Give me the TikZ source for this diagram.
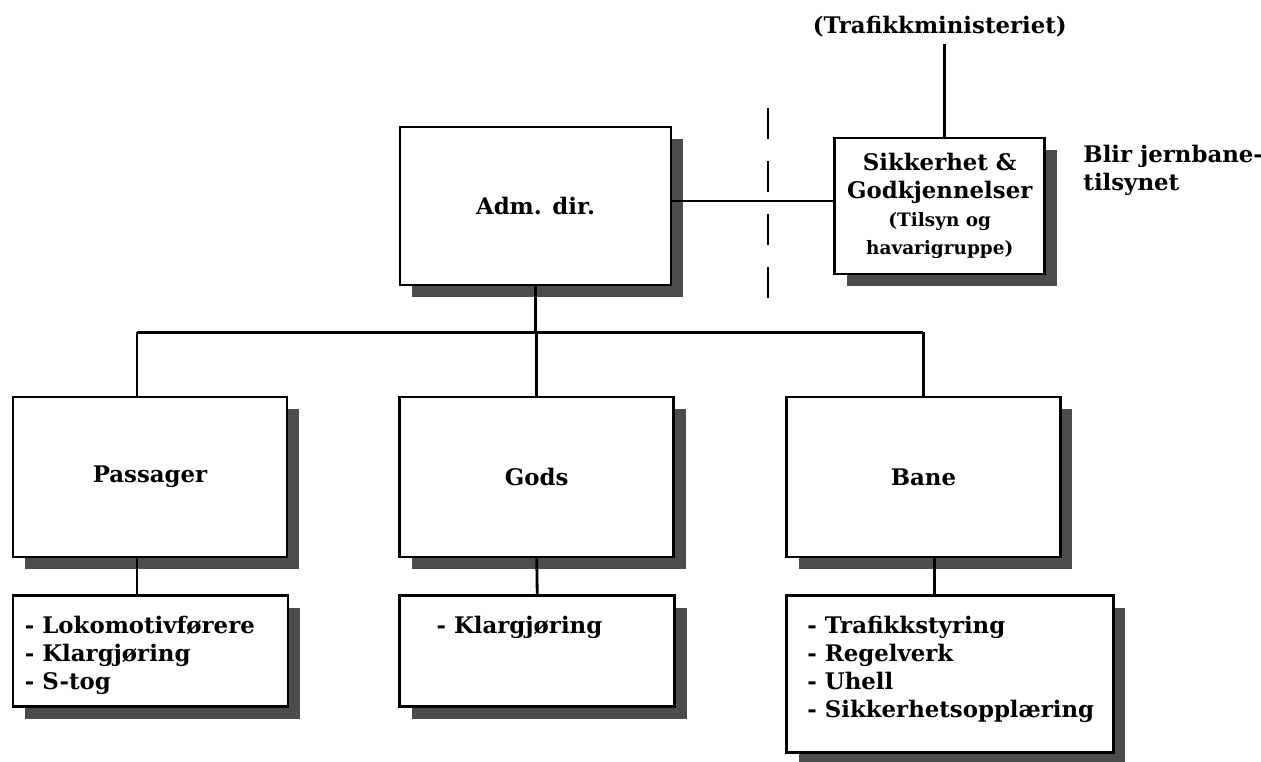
\documentclass[tikz,border=0pt]{standalone}
\usepackage{fontspec}
\setmainfont{DejaVu Serif}
\usetikzlibrary{positioning,shadows}
\newcommand\sikfont{\fontsize{10.5}{13}\selectfont}
\tikzset{
  orgbox/.style={draw=black, line width=1.6pt, fill=white, inner sep=0pt,
    drop shadow={shadow xshift=0.24cm, shadow yshift=-0.24cm, opacity=1, fill=black!70}},
  unitbox/.style={orgbox, minimum width=5.48cm, minimum height=3.2cm},
  listbox/.style={orgbox, minimum width=5.5cm, minimum height=2.22cm},
  items/.style={align=left, inner sep=0pt},
  link/.style={line width=1.6pt}
}

\begin{document}
\begin{tikzpicture}[x=0.02cm, y=-0.02cm, font=\bfseries\fontsize{13}{16}\selectfont]
\useasboundingbox (0,0) rectangle (1261,761);

%% top level
\node[orgbox, minimum width=5.42cm, minimum height=3.16cm] (Adm) at(535.5, 206) {Adm. dir.};
\node[orgbox, minimum width=4.2cm, minimum height=2.72cm, align=center, right=3.22cm of Adm] (Sik)
  {Sikkerhet \&\\Godkjennelser\\{\sikfont (Tilsyn og}\\{\sikfont havarigruppe)}};
\node[above=1.86cm of Sik] (Trafikk) {(Trafikkministeriet)};
\node[items, below right=0.16cm and 0.74cm of Sik.north east] (Blir) {Blir jernbane-\\tilsynet};

\coordinate (DashTop) at(768, 108);
\coordinate (DashBot) at(768, 300);

\draw[link] ([yshift=0.1cm]Adm.east) -- ([yshift=0.1cm]Adm.east -| Sik.west);
\draw[link] ([xshift=0.1cm]Trafikk.south) -- ([xshift=0.1cm]Sik.north);
\draw[link, dash pattern=on 0.62cm off 0.44cm] (DashTop) -- (DashBot);

%% divisions
\node[unitbox] (Pas) at(150, 477) {Passager};
\node[unitbox, right=2.2cm of Pas] (Gods) {Gods};
\node[unitbox, right=2.2cm of Gods] (Bane) {Bane};

\coordinate[above=1.27cm of Pas.north, xshift=-0.26cm] (BusL);
\coordinate (BusR) at(Bane.north |- BusL);

\draw[link] (Adm.south) -- (Adm.south |- BusL);
\draw[link] (BusL) -- (BusR);
\draw[link] (BusL) -- (BusL |- Pas.north);
\draw[link] (Gods.north |- BusL) -- (Gods.north);
\draw[link] (BusR) -- (Bane.north);

%% lists
\node[listbox, below=0.72cm of Pas.south west, anchor=north west] (PasList) {};
\node[listbox, below=0.72cm of Gods.south west, anchor=north west] (GodsList) {};
\node[orgbox, minimum width=6.54cm, minimum height=3.14cm, below=0.72cm of Bane.south west, anchor=north west] (BaneList) {};

\node[items, below right=0.42cm and 0.26cm of PasList.north west] (PasItems)
  {- Lokomotivførere\\- Klargjøring\\- S-tog};
\node[items, below right=0.42cm and 0.76cm of GodsList.north west] (GodsItems)
  {- Klargjøring};
\node[items, below right=0.42cm and 0.44cm of BaneList.north west] (BaneItems)
  {- Trafikkstyring\\- Regelverk\\- Uhell\\- Sikkerhetsopplæring};

\draw[link] (BusL |- Pas.south) -- (BusL |- PasList.north);
\draw[link] (Gods.south) -- (GodsList.north);
\draw[link] ([xshift=0.22cm]Bane.south) -- ([xshift=0.22cm]Bane.south |- BaneList.north);

\end{tikzpicture}
\end{document}
